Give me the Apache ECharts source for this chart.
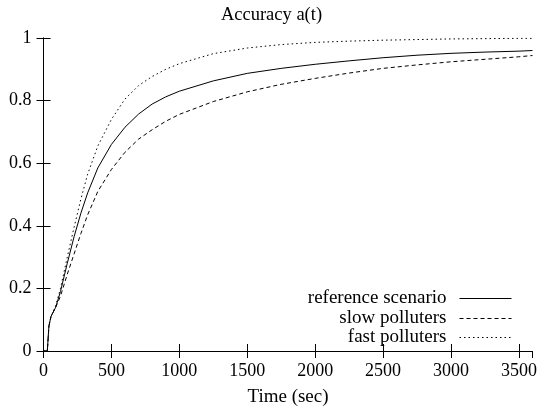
<!DOCTYPE html>
<html>
<head>
<meta charset="utf-8">
<script src="https://cdn.jsdelivr.net/npm/echarts@6/dist/echarts.min.js"></script>
<style>html,body{margin:0;padding:0;background:#fff}#c{width:543px;height:412px}</style>
</head>
<body>
<div id="c"></div>
<script>
const times = [0, 28, 40, 55, 90, 125, 175, 225, 275, 325, 400, 500, 600, 700, 800, 900, 1000, 1250, 1500, 1750, 2000, 2250, 2500, 2750, 3000, 3250, 3500, 3600];
const referenceScenario = [0, 0, 0.08, 0.11, 0.14, 0.19, 0.28, 0.365, 0.44, 0.505, 0.585, 0.66, 0.715, 0.757, 0.789, 0.812, 0.83, 0.863, 0.887, 0.903, 0.916, 0.927, 0.937, 0.945, 0.951, 0.955, 0.958, 0.96];
const slowPolluters = [0, 0, 0.08, 0.11, 0.14, 0.175, 0.245, 0.31, 0.375, 0.435, 0.51, 0.58, 0.635, 0.677, 0.707, 0.734, 0.756, 0.797, 0.828, 0.852, 0.871, 0.888, 0.903, 0.914, 0.924, 0.932, 0.94, 0.944];
const fastPolluters = [0, 0, 0.08, 0.11, 0.145, 0.2, 0.3, 0.395, 0.485, 0.565, 0.655, 0.74, 0.805, 0.848, 0.877, 0.9, 0.918, 0.95, 0.968, 0.979, 0.986, 0.99, 0.993, 0.995, 0.997, 0.998, 0.999, 0.999];
const seriesNames = ['reference scenario', 'slow polluters', 'fast polluters'];
const xTicks = [0, 500, 1000, 1500, 2000, 2500, 3000, 3500];
const yTicks = [0, 0.2, 0.4, 0.6, 0.8, 1];

const FONT = "'Liberation Serif', 'DejaVu Serif', serif";
const zip = (vals) => times.map((t, i) => [t, vals[i]]);
const axisCommon = {
  axisLine: { show: true, lineStyle: { color: '#000', width: 1 } },
  axisTick: { show: true, inside: true, length: 7, lineStyle: { color: '#000' } },
  splitLine: { show: false }
};
const chart = echarts.init(document.getElementById('c'), null, { renderer: 'canvas' });
const legendBase = (name, top) => ({
  data: [name],
  right: 26,
  top: top,
  orient: 'vertical',
  align: 'right',
  itemWidth: 52,
  itemHeight: 14,
  selectedMode: false,
  itemStyle: { opacity: 0 },
  lineStyle: { width: 1 },
  textStyle: { fontFamily: FONT, fontSize: 19, color: '#000', padding: [0, 8, 0, 0] }
});
chart.setOption({
  animation: false,
  backgroundColor: '#fff',
  title: {
    text: 'Accuracy a(t)', left: 'center', top: 1,
    textStyle: { fontFamily: FONT, fontSize: 18.5, fontWeight: 'normal', color: '#000' }
  },
  legend: [
    legendBase(seriesNames[0], 284),
    legendBase(seriesNames[1], 304),
    legendBase(seriesNames[2], 323)
  ],
  grid: { left: 43.5, right: 10.5, top: 38, bottom: 61, containLabel: false },
  xAxis: [
    Object.assign({}, axisCommon, {
      type: 'value', min: 0, max: 3600, interval: 500, position: 'bottom',
      name: 'Time (sec)', nameLocation: 'middle', nameGap: 37,
      nameTextStyle: { fontFamily: FONT, fontSize: 19, color: '#000' },
      axisLabel: {
        fontFamily: FONT, fontSize: 18, color: '#000', margin: 11, showMaxLabel: false,
        formatter: (v) => xTicks.includes(v) ? String(v) : ''
      }
    }),
    Object.assign({}, axisCommon, {
      type: 'value', min: 0, max: 3600, interval: 500, position: 'top',
      axisLabel: { show: false }
    })
  ],
  yAxis: [
    Object.assign({}, axisCommon, {
      type: 'value', min: 0, max: 1, interval: 0.2, position: 'left',
      axisLabel: {
        fontFamily: FONT, fontSize: 18, color: '#000', margin: 12,
        formatter: (v) => { const t = yTicks.find(y => Math.abs(y - v) < 1e-9); return t === undefined ? '' : String(t); }
      }
    }),
    Object.assign({}, axisCommon, {
      type: 'value', min: 0, max: 1, interval: 0.2, position: 'right',
      axisLabel: { show: false }
    })
  ],
  series: [
    { name: seriesNames[0], type: 'line', data: zip(referenceScenario), symbol: 'none', smooth: false,
      lineStyle: { color: '#000', width: 1, type: 'solid' }, itemStyle: { color: '#000' } },
    { name: seriesNames[1], type: 'line', data: zip(slowPolluters), symbol: 'none', smooth: false,
      lineStyle: { color: '#000', width: 1, type: [4, 3] }, itemStyle: { color: '#000' } },
    { name: seriesNames[2], type: 'line', data: zip(fastPolluters), symbol: 'none', smooth: false,
      lineStyle: { color: '#000', width: 1, type: [1.5, 3] }, itemStyle: { color: '#000' } }
  ]
});
</script>
</body>
</html>
